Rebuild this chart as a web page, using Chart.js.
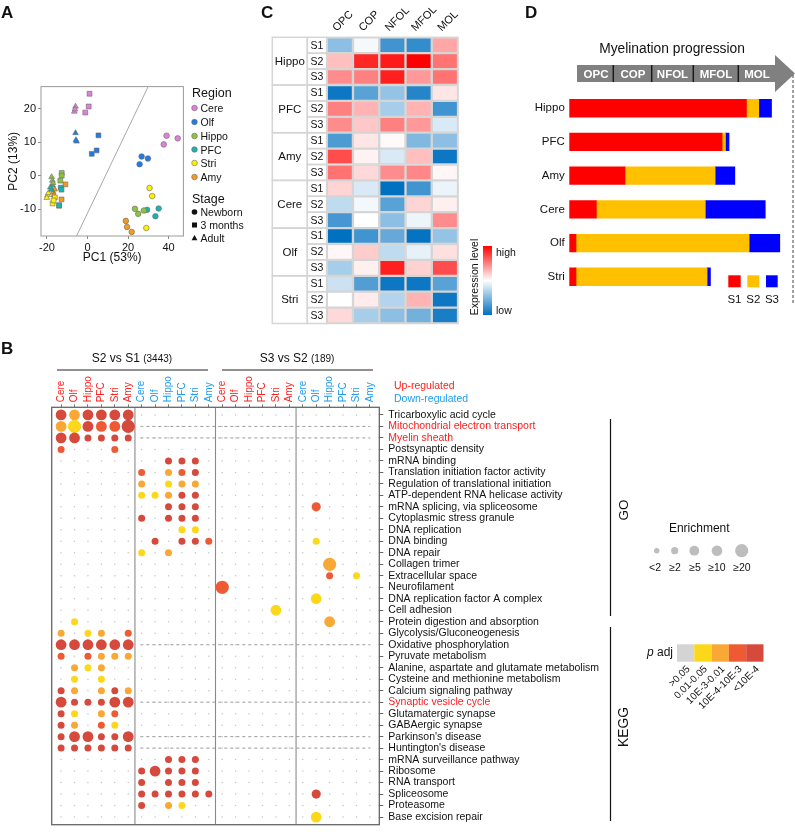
<!DOCTYPE html>
<html><head><meta charset="utf-8">
<script src="https://cdn.jsdelivr.net/npm/chart.js@4.4.1/dist/chart.umd.min.js"></script>
<style>
html,body{margin:0;padding:0;background:#fff}
body{width:795px;height:836px;position:relative;overflow:hidden}
canvas{position:absolute}
#ov{position:absolute;left:0;top:0;pointer-events:none}
#ov text{font-family:"Liberation Sans",Arial,Helvetica,sans-serif;fill:#111}
</style></head><body>
<canvas id="cA" width="188" height="190" style="left:0px;top:78px"></canvas>
<canvas id="cC" width="195" height="326" style="left:270px;top:0px"></canvas>
<canvas id="cD" width="305" height="225" style="left:490px;top:80px"></canvas>
<canvas id="cB" width="560" height="466" style="left:40px;top:370px"></canvas>
<svg id="ov" width="795" height="836" xmlns="http://www.w3.org/2000/svg">
<defs><linearGradient id="gb" x1="0" y1="0" x2="0" y2="1"><stop offset="0" stop-color="#FF0000"/><stop offset="0.5" stop-color="#FFFFFF"/><stop offset="1" stop-color="#0070C0"/></linearGradient></defs>
<g font-weight="bold" font-size="17" dominant-baseline="central">
<text x="1" y="12" font-weight="bold">A</text>
<text x="261" y="12" font-weight="bold">C</text>
<text x="525" y="12" font-weight="bold">D</text>
<text x="1" y="348" font-weight="bold">B</text>
</g>
<!-- Panel A legend -->
<g dominant-baseline="central">
<text x="192" y="93" font-size="12.5">Region</text>
<circle cx="194.5" cy="108" r="2.8" fill="#E07FDC" stroke="#6a6a6a" stroke-width="0.6"/><text x="200.5" y="108" font-size="10.5">Cere</text>
<circle cx="194.5" cy="122" r="2.8" fill="#1F7BE6" stroke="#6a6a6a" stroke-width="0.6"/><text x="200.5" y="122" font-size="10.5">Olf</text>
<circle cx="194.5" cy="136" r="2.8" fill="#8CC43F" stroke="#6a6a6a" stroke-width="0.6"/><text x="200.5" y="136" font-size="10.5">Hippo</text>
<circle cx="194.5" cy="149.5" r="2.8" fill="#1DB3AD" stroke="#6a6a6a" stroke-width="0.6"/><text x="200.5" y="149.5" font-size="10.5">PFC</text>
<circle cx="194.5" cy="163" r="2.8" fill="#FFF000" stroke="#6a6a6a" stroke-width="0.6"/><text x="200.5" y="163" font-size="10.5">Stri</text>
<circle cx="194.5" cy="177" r="2.8" fill="#F59A1E" stroke="#6a6a6a" stroke-width="0.6"/><text x="200.5" y="177" font-size="10.5">Amy</text>
<text x="192" y="199" font-size="12.5">Stage</text>
<circle cx="194.5" cy="212" r="2.8" fill="#111"/><text x="200.5" y="212" font-size="10.5">Newborn</text>
<rect x="192" y="222.5" width="5" height="5" fill="#111"/><text x="200.5" y="225" font-size="10.5">3 months</text>
<polygon points="194.5,235 191.6,240.3 197.4,240.3" fill="#111"/><text x="200.5" y="238" font-size="10.5">Adult</text>
</g>
<!-- Panel C colour bar -->
<rect x="483" y="246" width="9" height="69" fill="url(#gb)"/>
<text x="496" y="252" font-size="10.5" dominant-baseline="central">high</text>
<text x="496" y="310" font-size="10.5" dominant-baseline="central">low</text>
<text x="474" y="277" font-size="10.5" text-anchor="middle" dominant-baseline="central" transform="rotate(-90 474 277)">Expression level</text>
<!-- Panel D decoration -->
<text x="672" y="48" font-size="13.8" text-anchor="middle" dominant-baseline="central">Myelination progression</text>
<polygon points="577,65 775,65 775,55 795,73.5 775,92 775,82 577,82" fill="#808080"/>
<g stroke="#1a1a1a" stroke-width="1.5">
<line x1="613.3" y1="65" x2="613.3" y2="82"/><line x1="651.7" y1="65" x2="651.7" y2="82"/>
<line x1="693.3" y1="65" x2="693.3" y2="82"/><line x1="738.3" y1="65" x2="738.3" y2="82"/>
</g>
<g font-size="11.5" font-weight="bold" text-anchor="middle" dominant-baseline="central">
<text x="596" y="74" style="fill:#fff">OPC</text><text x="633" y="74" style="fill:#fff">COP</text>
<text x="672.5" y="74" style="fill:#fff">NFOL</text><text x="716" y="74" style="fill:#fff">MFOL</text>
<text x="757" y="74" style="fill:#fff">MOL</text>
</g>
<line x1="793" y1="75" x2="793" y2="303" stroke="#444" stroke-width="1" stroke-dasharray="3,2"/>
<rect x="728.3" y="275.3" width="12.4" height="12" fill="#FF0000"/>
<rect x="747.3" y="275.3" width="12" height="12" fill="#FFC000"/>
<rect x="766" y="275.3" width="11.7" height="12" fill="#0000FF"/>
<g font-size="11.5" text-anchor="middle" dominant-baseline="central">
<text x="734.5" y="299">S1</text><text x="753.3" y="299">S2</text><text x="772" y="299">S3</text>
</g>
<!-- Panel B headers -->
<text x="132" y="358" font-size="12" text-anchor="middle" dominant-baseline="central">S2 vs S1 <tspan font-size="10">(3443)</tspan></text>
<text x="297" y="358" font-size="12" text-anchor="middle" dominant-baseline="central">S3 vs S2 <tspan font-size="10">(189)</tspan></text>
<line x1="57" y1="370" x2="208" y2="370" stroke="#222" stroke-width="1"/>
<line x1="222" y1="370" x2="373" y2="370" stroke="#222" stroke-width="1"/>
<text x="394" y="385" font-size="10.5" dominant-baseline="central" style="fill:#FF2020">Up-regulated</text>
<text x="394" y="397.5" font-size="10.5" dominant-baseline="central" style="fill:#1E9BF0">Down-regulated</text>
<line x1="610.5" y1="419" x2="610.5" y2="616" stroke="#111" stroke-width="1.2"/>
<line x1="610.5" y1="627" x2="610.5" y2="821" stroke="#111" stroke-width="1.2"/>
<text x="623" y="510" font-size="13.5" text-anchor="middle" dominant-baseline="central" transform="rotate(-90 623 510)">GO</text>
<text x="623" y="727" font-size="13.8" text-anchor="middle" dominant-baseline="central" transform="rotate(-90 623 727)">KEGG</text>
<text x="699.3" y="527.7" font-size="12" text-anchor="middle" dominant-baseline="central">Enrichment</text>
<g fill="#BDBDBD">
<circle cx="656.7" cy="550.7" r="2.7"/><circle cx="674.7" cy="550.7" r="3.6"/><circle cx="694.3" cy="550.7" r="4.9"/><circle cx="717" cy="550.7" r="5.3"/><circle cx="741.7" cy="550.7" r="6.6"/>
</g>
<g font-size="10.5" text-anchor="middle" dominant-baseline="central">
<text x="655" y="567">&lt;2</text><text x="675" y="567">≥2</text><text x="695" y="567">≥5</text><text x="717" y="567">≥10</text><text x="742" y="567">≥20</text>
</g>
<text x="673" y="652" font-size="12" text-anchor="end" dominant-baseline="central"><tspan font-style="italic">p</tspan> adj</text>
<rect x="677" y="644.3" width="17.3" height="17.4" fill="#D4D4D4"/>
<rect x="694.3" y="644.3" width="17.3" height="17.4" fill="#FDD71A"/>
<rect x="711.6" y="644.3" width="17.3" height="17.4" fill="#F9A836"/>
<rect x="728.9" y="644.3" width="17.3" height="17.4" fill="#EE5A33"/>
<rect x="746.2" y="644.3" width="17.3" height="17.4" fill="#D64A3E"/>
<g font-size="10" text-anchor="end" dominant-baseline="central">
<text x="688" y="667" transform="rotate(-45 688 667)">&gt;0.05</text>
<text x="705.3" y="667" transform="rotate(-45 705.3 667)">0.01-0.05</text>
<text x="722.6" y="667" transform="rotate(-45 722.6 667)">10E-3-0.01</text>
<text x="739.9" y="667" transform="rotate(-45 739.9 667)">10E-4-10E-3</text>
<text x="757.2" y="667" transform="rotate(-45 757.2 667)">&lt;10E-4</text>
</g>
</svg>
<script>
// ---------------- DATA ----------------
// Panel A: PCA, [PC1, PC2, stage] with N = newborn, M = 3 months, A = adult
const pcaRegions = ['Cere','Olf','Hippo','PFC','Stri','Amy'];
const pcaCere  = [[39.0,11.9,'N'],[44.5,11.1,'N'],[37.6,9.3,'N'],[1.0,24.4,'M'],[0.6,20.6,'M'],[-1.1,18.8,'M'],[-5.9,20.6,'A'],[-6.5,19.1,'A'],[-6.2,19.8,'A']];
const pcaOlf   = [[26.7,5.7,'N'],[29.8,5.1,'N'],[25.7,3.4,'N'],[5.4,12.0,'M'],[4.5,7.5,'M'],[2.1,6.5,'M'],[-5.9,12.7,'A'],[-5.4,10.2,'A'],[-5.7,10.6,'A']];
const pcaHippo = [[23.4,-9.9,'N'],[25.0,-11.4,'N'],[27.8,-10.4,'N'],[-12.7,0.8,'M'],[-12.7,0.0,'M'],[-13.4,-1.5,'M'],[-17.7,-0.4,'A'],[-17.3,-1.5,'A'],[-17.0,-2.2,'A']];
const pcaPFC   = [[29.4,-10.2,'N'],[35.1,-9.8,'N'],[33.5,-12.1,'N'],[-13.2,-3.6,'M'],[-12.8,-4.2,'M'],[-14.0,-8.8,'M'],[-17.3,-2.8,'A'],[-17.8,-4.2,'A'],[-18.3,-3.5,'A']];
const pcaStri  = [[30.6,-3.7,'N'],[31.9,-6.1,'N'],[29.0,-15.6,'N'],[-17.2,-8.3,'M'],[-16.1,-6.5,'M'],[-16.7,-7.4,'M'],[-19.7,-5.8,'A'],[-20.1,-6.6,'A'],[-19.3,-5.2,'A']];
const pcaAmy   = [[18.9,-13.5,'N'],[19.5,-15.3,'N'],[21.8,-16.8,'N'],[-10.9,-2.6,'M'],[-12.8,-7.1,'M'],[-14.0,-9.0,'M'],[-16.9,-4.9,'A'],[-16.6,-5.8,'A'],[-16.2,-4.1,'A']];
const pcaXTicks = [-20,0,20,40];
const pcaYTicks = [-10,0,10,20];

// Panel C: expression heatmap (scaled, -1 low .. 1 high), rows S1,S2,S3 per region
const heatCols = ['OPC','COP','NFOL','MFOL','MOL'];
const heatGroups = ['Hippo','PFC','Amy','Cere','Olf','Stri'];
const heatStages = ['S1','S2','S3'];
const heatHippo = [[-0.45,-0.04,-0.75,-0.8,0.35],[0.25,0.85,0.9,1.0,0.55],[0.45,0.5,0.88,0.4,0.55]];
const heatPFC   = [[-0.95,-0.65,-0.42,-0.85,0.1],[0.5,0.3,-0.35,0.3,-0.75],[0.45,0.22,0.5,0.4,-0.15]];
const heatAmy   = [[-0.7,0.1,0.02,-0.5,-0.45],[0.7,0.05,-0.15,0.25,-0.95],[0.55,0.15,0.45,0.47,0.03]];
const heatCere  = [[0.17,-0.15,-1.0,-0.75,-0.08],[-0.25,-0.05,-0.65,0.17,0.06],[-0.72,0.0,-0.45,-0.07,0.45]];
const heatOlf   = [[-1.0,-0.75,-0.6,-0.98,-0.42],[0.03,0.2,-0.25,-0.1,0.12],[-0.35,0.06,0.88,0.18,0.7]];
const heatStri  = [[-0.2,-0.68,-0.95,-0.95,-0.65],[0.0,0.08,-0.3,0.3,-0.95],[0.15,-0.35,-0.45,-0.55,-0.9]];

// Panel D: stage composition (%)
const myelRegions = ['Hippo','PFC','Amy','Cere','Olf','Stri'];
const myelS1 = [79.2,68.3,24.9,12.1,3.0,3.0];
const myelS2 = [5.5,1.5,40.3,48.7,77.4,58.6];
const myelS3 = [5.7,1.6,8.8,26.8,13.7,1.5];

// Panel B: enrichment dot plot
const bRegions = ['Cere','Olf','Hippo','PFC','Stri','Amy'];
const bComparisons = ['S2 vs S1','S3 vs S2'];
const bDirections = ['up','down'];
const goTerms = ['Tricarboxylic acid cycle','Mitochondrial electron transport','Myelin sheath','Postsynaptic density','mRNA binding','Translation initiation factor activity','Regulation of translational initiation','ATP-dependent RNA helicase activity','mRNA splicing, via spliceosome','Cytoplasmic stress granule','DNA replication','DNA binding','DNA repair','Collagen trimer','Extracellular space','Neurofilament','DNA replication factor A complex','Cell adhesion'];
const keggTerms = ['Protein digestion and absorption','Glycolysis/Gluconeogenesis','Oxidative phosphorylation','Pyruvate metabolism','Alanine, aspartate and glutamate metabolism','Cysteine and methionine metabolism','Calcium signaling pathway','Synaptic vesicle cycle','Glutamatergic synapse','GABAergic synapse',"Parkinson's disease","Huntington's disease",'mRNA surveillance pathway','Ribosome','RNA transport','Spliceosome','Proteasome','Base excision repair'];
const highlightTerms = ['Mitochondrial electron transport','Myelin sheath','Synaptic vesicle cycle'];
const dashedTerms = ['Mitochondrial electron transport','Myelin sheath','Oxidative phosphorylation','Synaptic vesicle cycle',"Parkinson's disease","Huntington's disease"];
const enrichLabels = ['<2','≥2','≥5','≥10','≥20'];
const padjLabels = ['>0.05','0.01-0.05','10E-3-0.01','10E-4-10E-3','<10E-4'];
// [term row, column, enrichment class 1..5, p adj class 1..5]
const bDots = [
[0,0,4,5],[0,1,4,3],[0,2,4,5],[0,3,4,5],[0,4,4,5],[0,5,4,5],
[1,0,4,3],[1,1,5,2],[1,2,4,5],[1,3,4,4],[1,4,4,4],[1,5,5,5],
[2,0,4,5],[2,1,4,5],[2,2,2,5],[2,3,2,5],[2,4,2,5],[2,5,2,5],
[3,0,2,4],[3,4,2,4],
[4,8,2,5],[4,9,2,5],[4,10,2,5],
[5,6,2,4],[5,8,2,3],[5,9,2,4],[5,10,2,5],
[6,6,2,3],[6,8,2,2],[6,9,2,3],[6,10,2,3],
[7,6,2,2],[7,7,2,2],[7,8,2,3],[7,9,2,5],[7,10,2,5],
[8,8,2,5],[8,9,2,5],[8,10,2,5],[8,19,3,4],
[9,6,2,5],[9,8,2,5],[9,9,2,5],[9,10,2,5],
[10,9,2,2],[10,10,2,2],
[11,7,2,5],[11,9,2,5],[11,10,2,5],[11,11,2,4],[11,19,2,2],
[12,6,2,2],[12,8,2,3],
[13,20,5,3],
[14,20,2,4],[14,22,2,2],
[15,12,5,4],
[16,19,4,2],
[17,16,4,2],
[18,1,2,2],[18,20,4,3],
[19,0,2,3],[19,2,2,2],[19,3,2,3],[19,5,2,4],
[20,0,4,5],[20,1,4,5],[20,2,4,5],[20,3,4,5],[20,4,4,5],[20,5,4,5],
[21,0,2,4],[21,2,2,4],[21,3,2,3],[21,4,2,3],[21,5,2,3],
[22,1,2,3],[22,2,2,2],[22,3,2,3],
[23,1,2,2],[23,3,2,2],
[24,0,2,5],[24,1,2,3],[24,3,2,3],[24,4,2,5],[24,5,2,3],
[25,0,4,5],[25,1,2,5],[25,2,2,5],[25,3,2,5],[25,4,4,5],[25,5,4,5],
[26,0,2,5],[26,1,2,2],[26,3,2,3],[26,4,2,4],
[27,0,2,5],[27,1,2,3],[27,3,2,4],[27,4,2,2],
[28,0,2,5],[28,1,4,5],[28,2,4,5],[28,3,2,5],[28,4,2,5],[28,5,4,5],
[29,0,2,5],[29,1,2,5],[29,2,2,5],[29,3,2,5],[29,4,2,5],[29,5,2,5],
[30,8,2,5],[30,9,2,5],[30,10,2,5],
[31,6,2,5],[31,7,4,5],[31,8,2,5],[31,9,2,5],[31,10,2,5],
[32,6,2,5],[32,8,2,5],[32,9,2,5],[32,10,2,5],
[33,6,2,5],[33,7,2,5],[33,8,2,5],[33,9,2,5],[33,10,2,5],[33,11,2,5],[33,19,3,5],
[34,6,2,5],[34,8,2,3],[34,9,2,2],
[35,19,4,2]
];

// ---------------- STYLE ----------------
const FONT = '"Liberation Sans", Arial, Helvetica, sans-serif';
Chart.defaults.font.family = FONT;
Chart.defaults.color = '#111';
Chart.defaults.animation = false;

const framePlugin = {
  id: 'frame',
  afterDatasetsDraw(chart, args, opts) {
    if (!opts || !opts.color) return;
    const {ctx, chartArea: a} = chart;
    ctx.save();
    ctx.strokeStyle = opts.color; ctx.lineWidth = opts.width || 1;
    ctx.strokeRect(a.left, a.top, a.right - a.left, a.bottom - a.top);
    ctx.restore();
  }
};
const noUI = {legend: {display: false}, tooltip: {enabled: false}};

// ---------------- PANEL A ----------------
const pcaColors = ['#E07FDC','#1F7BE6','#8CC43F','#1DB3AD','#FFF000','#F59A1E'];
const pcaSets = [pcaCere, pcaOlf, pcaHippo, pcaPFC, pcaStri, pcaAmy];
const shapeOf = {N: 'circle', M: 'rect', A: 'triangle'};
const radiusOf = {N: 2.8, M: 3.4, A: 3.3};
new Chart(document.getElementById('cA'), {
  type: 'scatter',
  data: {datasets: [
    ...pcaSets.map((pts, i) => ({
      label: pcaRegions[i],
      data: pts.map(p => ({x: p[0], y: p[1]})),
      pointStyle: pts.map(p => shapeOf[p[2]]),
      pointRadius: pts.map(p => radiusOf[p[2]]),
      pointBackgroundColor: pcaColors[i],
      pointBorderColor: '#6a6a6a', pointBorderWidth: 0.6, order: 0
    })),
    {data: [{x: 29.9, y: 26.53}, {x: -5.4, y: -18}], showLine: true, pointRadius: 0, borderColor: '#A8A8A8', borderWidth: 1, order: 5}
  ]},
  options: {
    responsive: false, animation: false,
    layout: {padding: {top: 8, right: 3}},
    plugins: {...noUI, frame: {color: '#9a9a9a', width: 1}},
    scales: {
      x: {type: 'linear', min: -22.93, max: 47.3,
        afterBuildTicks: s => { s.ticks = pcaXTicks.map(v => ({value: v})); },
        afterFit: s => { s.height = 32; },
        ticks: {font: {size: 11}, padding: 2, color: '#111'},
        grid: {drawOnChartArea: false, tickLength: 3, color: '#888'}, border: {display: false},
        title: {display: true, text: 'PC1 (53%)', font: {size: 12}, padding: {top: 0, bottom: 3}}},
      y: {type: 'linear', min: -18, max: 26.53,
        afterBuildTicks: s => { s.ticks = pcaYTicks.map(v => ({value: v})); },
        afterFit: s => { s.width = 41; },
        ticks: {font: {size: 11}, padding: 2, color: '#111'},
        grid: {drawOnChartArea: false, tickLength: 3, color: '#888'}, border: {display: false},
        title: {display: true, text: 'PC2 (13%)', font: {size: 12}, padding: {top: 6, bottom: 0}}}
    }
  },
  plugins: [framePlugin]
});

// ---------------- PANEL C ----------------
function heatColor(v) {
  const t = Math.min(Math.abs(v), 1);
  if (v >= 0) { const g = Math.round(255 - 255 * t); return `rgb(255,${g},${g})`; }
  return `rgb(${Math.round(255 - 255 * t)},${Math.round(255 - 143 * t)},${Math.round(255 - 63 * t)})`;
}
const heatRows = [heatHippo, heatPFC, heatAmy, heatCere, heatOlf, heatStri].flat();
const heatLabelPlugin = {
  id: 'heatLabels',
  afterDatasetsDraw(chart) {
    const {ctx, chartArea, scales: {y}} = chart;
    const x0 = chartArea.left - 54.4, x1 = chartArea.left - 19.4, x2 = chartArea.left;
    ctx.save();
    ctx.strokeStyle = '#D5D5D5'; ctx.lineWidth = 1.5;
    ctx.fillStyle = '#111'; ctx.textBaseline = 'middle'; ctx.textAlign = 'center';
    heatGroups.forEach((g, gi) => {
      const yt = y.getPixelForValue(gi * 3), yb = y.getPixelForValue(gi * 3 + 3);
      ctx.strokeRect(x0, yt, x1 - x0, yb - yt);
      ctx.font = '11.5px ' + FONT;
      ctx.fillText(g, (x0 + x1) / 2, (yt + yb) / 2 + 0.5);
      heatStages.forEach((s, k) => {
        const a = y.getPixelForValue(gi * 3 + k), b = y.getPixelForValue(gi * 3 + k + 1);
        ctx.strokeRect(x1, a, x2 - x1, b - a);
        ctx.font = '10.5px ' + FONT;
        ctx.fillText(s, (x1 + x2) / 2, (a + b) / 2 + 0.5);
      });
    });
    ctx.strokeRect(chartArea.left, chartArea.top, chartArea.right - chartArea.left, chartArea.bottom - chartArea.top);
    ctx.restore();
  }
};
new Chart(document.getElementById('cC'), {
  type: 'bar',
  data: {labels: heatCols, datasets: heatRows.map((vals, r) => ({
    data: vals.map(() => [r, r + 1]),
    backgroundColor: vals.map(heatColor),
    borderColor: '#D5D5D5', borderWidth: 1.5, borderSkipped: false,
    grouped: false, barPercentage: 1, categoryPercentage: 1
  }))},
  options: {
    responsive: false, animation: false,
    layout: {padding: {left: 56.7, right: 2.3, bottom: 2.5}},
    plugins: noUI,
    scales: {
      x: {position: 'top', grid: {display: false, drawTicks: false}, border: {display: false},
        ticks: {font: {size: 11}, minRotation: 45, maxRotation: 45, padding: 3, labelOffset: 4, color: '#111'},
        afterFit: s => { s.height = 37.3; }},
      y: {display: false, min: 0, max: 18, reverse: true}
    }
  },
  plugins: [heatLabelPlugin]
});

// ---------------- PANEL D ----------------
new Chart(document.getElementById('cD'), {
  type: 'bar',
  data: {labels: myelRegions, datasets: [
    {label: 'S1', data: myelS1, backgroundColor: '#FF0000'},
    {label: 'S2', data: myelS2, backgroundColor: '#FFC000'},
    {label: 'S3', data: myelS3, backgroundColor: '#0000FF'}
  ]},
  options: {
    indexAxis: 'y', responsive: false, animation: false,
    layout: {padding: {top: 9.4, bottom: 4.4, right: 2}},
    datasets: {bar: {barThickness: 17.6}},
    plugins: noUI,
    scales: {
      x: {stacked: true, display: false, min: 0, max: 100},
      y: {stacked: true, grid: {display: false, drawTicks: false}, border: {display: false},
        ticks: {font: {size: 11.5}, padding: 4.5, color: '#111'},
        afterFit: s => { s.width = 79.3; }}
    }
  }
});

// ---------------- PANEL B ----------------
const bCols = [], bColDir = [];
bComparisons.forEach(() => bDirections.forEach(d => bRegions.forEach(r => { bCols.push(r); bColDir.push(d); })));
const allTerms = goTerms.concat(keggTerms);
const enrichRadius = [0, 2.6, 3.5, 4.6, 5.4, 6.6];
const padjColors = ['', '#D4D4D4', '#FDD71A', '#F9A836', '#EE5A33', '#D64A3E'];
const gridPts = [];
allTerms.forEach((t, r) => bCols.forEach((c, ci) => gridPts.push({x: ci, y: r})));
const Y0 = -0.665, Y1 = allTerms.length - 1 + 0.665;
new Chart(document.getElementById('cB'), {
  type: 'scatter',
  data: {datasets: [
    {data: bDots.map(d => ({x: d[1], y: d[0]})),
     pointRadius: bDots.map(d => enrichRadius[d[2]]),
     pointBackgroundColor: bDots.map(d => padjColors[d[3]]),
     pointBorderWidth: 0, order: 0},
    {data: gridPts, pointRadius: 0.75, pointBackgroundColor: '#C4C4C4', pointBorderWidth: 0, order: 1},
    ...dashedTerms.map(t => ({data: [{x: 5.9, y: allTerms.indexOf(t)}, {x: 23, y: allTerms.indexOf(t)}],
      showLine: true, pointRadius: 0, borderColor: '#9a9a9a', borderWidth: 1, borderDash: [3, 3], order: 2})),
    ...[5.5, 11.5, 17.5].map(x => ({data: [{x, y: Y0}, {x, y: Y1}], showLine: true, pointRadius: 0,
      borderColor: '#8a8a8a', borderWidth: 1.1, order: 3}))
  ]},
  options: {
    responsive: false, animation: false,
    layout: {padding: {left: 11.7, bottom: 8.3}},
    plugins: {...noUI, frame: {color: '#666', width: 1.3}},
    scales: {
      x: {type: 'linear', position: 'top', min: -0.7, max: 23.7,
        afterBuildTicks: s => { s.ticks = bCols.map((c, i) => ({value: i})); },
        afterFit: s => { s.height = 37.3; },
        ticks: {autoSkip: false, minRotation: 90, maxRotation: 90, font: {size: 10}, padding: 2, labelOffset: 12,
          callback: v => bCols[v],
          color: c => bColDir[c.index] === 'up' ? '#FF1F1F' : '#1E9BF0'},
        grid: {drawOnChartArea: false, tickLength: 3, color: '#777'}, border: {display: false}},
      y: {type: 'linear', position: 'right', reverse: true, min: Y0, max: Y1,
        afterBuildTicks: s => { s.ticks = allTerms.map((t, i) => ({value: i})); },
        afterFit: s => { s.width = 220.7; },
        ticks: {autoSkip: false, font: {size: 10.5}, padding: 5,
          callback: v => allTerms[v],
          color: c => highlightTerms.includes(allTerms[c.index]) ? '#FF1A1A' : '#111'},
        grid: {drawOnChartArea: false, tickLength: 4, color: '#666'}, border: {display: false}}
    }
  },
  plugins: [framePlugin]
});
</script>
</body></html>
